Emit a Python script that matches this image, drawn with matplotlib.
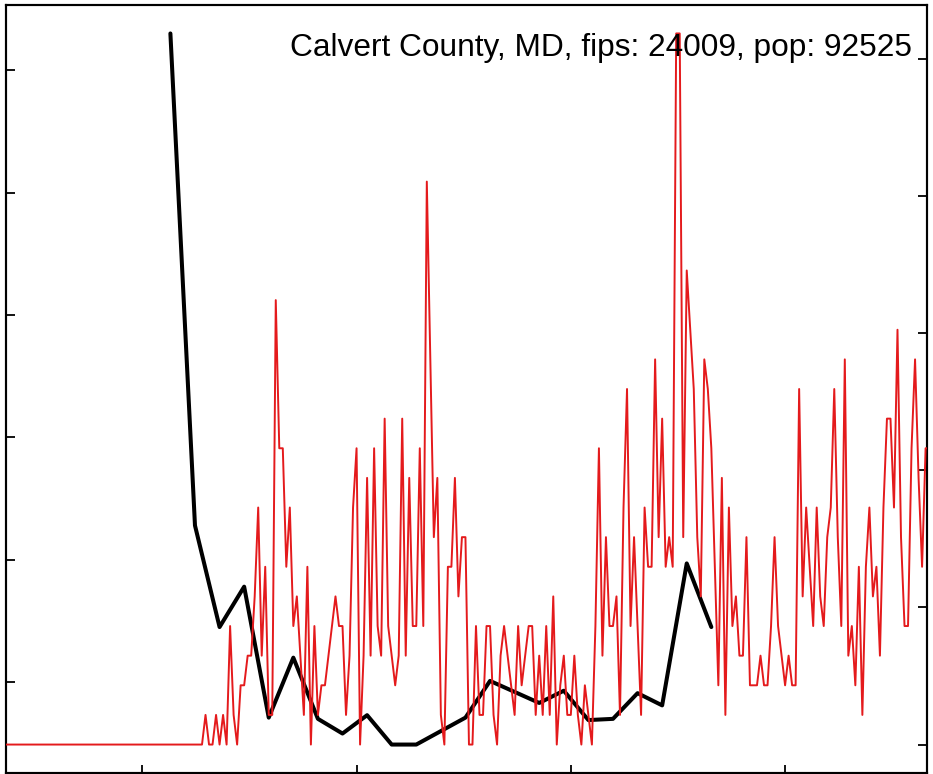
import numpy as np
import matplotlib
matplotlib.use("Agg")
import matplotlib.pyplot as plt
import matplotlib.dates as mdates

plt.rcParams['font.family'] = ['Liberation Sans', 'DejaVu Sans']

# ---------------- data ----------------
title = "Calvert County, MD, fips: 24009, pop: 92525"
population = 92525

# daily new cases, starting 2020-02-22
red_start = np.datetime64('2020-02-22')
red_cases = [
    0, 0, 0, 0, 0, 0, 0, 0, 0, 0, 0, 0, 0, 0, 0, 0, 0, 0,
    0, 0, 0, 0, 0, 0, 0, 0, 0, 0, 0, 0, 0, 0, 0, 0, 0, 0,
    0, 0, 0, 0, 0, 0, 0, 0, 0, 0, 0, 0, 0, 0, 0, 0, 0, 0,
    # Apr 16 onward
    0, 0, 0, 1, 0, 0, 1, 0, 1, 0, 4, 1, 0, 2, 2, 3, 3, 5, 8, 3,
    6, 1, 1, 15, 10, 10, 6, 8, 4, 5, 3, 1, 6, 0, 4, 1, 2, 2, 3, 4,
    5, 4, 4, 1, 3, 8, 10, 0, 3, 9, 3, 10, 4, 3, 11, 4, 3, 2, 3, 11,
    3, 9, 4, 4, 10, 4, 19, 13, 7, 9, 1, 0, 6, 6, 9, 5, 7, 7, 0, 0,
    4, 1, 1, 4, 4, 1, 0, 3, 4, 3, 2, 1, 4, 2, 3, 4, 4, 1, 3, 1,
    4, 1, 5, 0, 2, 3, 1, 1, 3, 1, 0, 2, 1, 0, 4, 10, 3, 7, 4, 4,
    5, 1, 8, 12, 4, 7, 4, 1, 8, 6, 6, 13, 7, 11, 6, 7, 6, 24, 24, 7,
    16, 14, 12, 7, 5, 13, 12, 10, 6, 2, 9, 1, 8, 4, 5, 3, 3, 7, 2, 2,
    2, 3, 2, 2, 4, 7, 4, 3, 2, 3, 2, 2, 12, 5, 8, 6, 4, 8, 5, 4,
    7, 8, 12, 7, 4, 13, 3, 4, 2, 6, 1, 6, 8, 5, 6, 3, 8, 11, 11, 8,
    14, 7, 4, 4, 10, 13, 9, 6, 10, 10,
]

# weekly series (left axis), starting 2020-04-09
black_start = np.datetime64('2020-04-09')
black_vals = [31.5, 11.4, 7.25, 8.9, 3.55, 6.0, 3.5, 2.9, 3.65, 2.45, 2.45, 3.0,
              3.55, 5.05, 4.6, 4.15, 4.65, 3.45, 3.5, 4.55, 4.05, 9.85, 7.25]

x_tick_dates = ['2020-04-01', '2020-06-01', '2020-08-01', '2020-10-01']
left_ticks = [5, 10, 15, 20, 25, 30]
right_ticks = [0, 5, 10, 15, 20, 25]
x_range = ('2020-02-22', '2020-11-10')

# ---------------- derived ----------------
red_dates = red_start + np.arange(len(red_cases)).astype('timedelta64[D]')
red_rate = np.array(red_cases) * 100000.0 / population
black_dates = black_start + (7 * np.arange(len(black_vals))).astype('timedelta64[D]')
black_arr = np.array(black_vals)


def r_range(v):
    lo, hi = float(np.min(v)), float(np.max(v))
    pad = 0.04 * (hi - lo)
    return lo - pad, hi + pad


fig = plt.figure(figsize=(9.33, 7.74), dpi=100)
ax = fig.add_axes([6 / 933, 1 / 774, 921 / 933, 768 / 774])

ax.plot(black_dates, black_arr, color='black', lw=2.9,
        solid_joinstyle='round', solid_capstyle='round', zorder=2)
ax.set_ylim(*r_range(black_arr))

ax2 = ax.twinx()
ax2.plot(red_dates, red_rate, color='#E41A1C', lw=1.4,
         solid_joinstyle='round', zorder=3)
ax2.set_ylim(*r_range(red_rate))

x0 = mdates.date2num(np.datetime64(x_range[0])) + 0.2
x1 = mdates.date2num(np.datetime64(x_range[1])) + 0.4
ax.set_xlim(x0, x1)

ax.set_xticks([mdates.date2num(np.datetime64(d)) for d in x_tick_dates])
ax.set_yticks(left_ticks)
ax2.set_yticks(right_ticks)

ax.tick_params(axis='x', direction='in', length=6, width=1.3,
               labelbottom=False, top=False)
ax.tick_params(axis='y', direction='in', length=6.5, width=1.3,
               labelleft=False, right=False)
ax2.tick_params(axis='y', direction='in', length=6.5, width=1.3,
                labelright=False, left=False)

for a in (ax, ax2):
    for s in a.spines.values():
        s.set_linewidth(1.5)
        s.set_color('black')

fig.text(912 / 933, 1 - 56 / 774, title, ha='right', va='baseline',
         fontsize=22.8, color='black')

fig.savefig('out.png', dpi=100)
